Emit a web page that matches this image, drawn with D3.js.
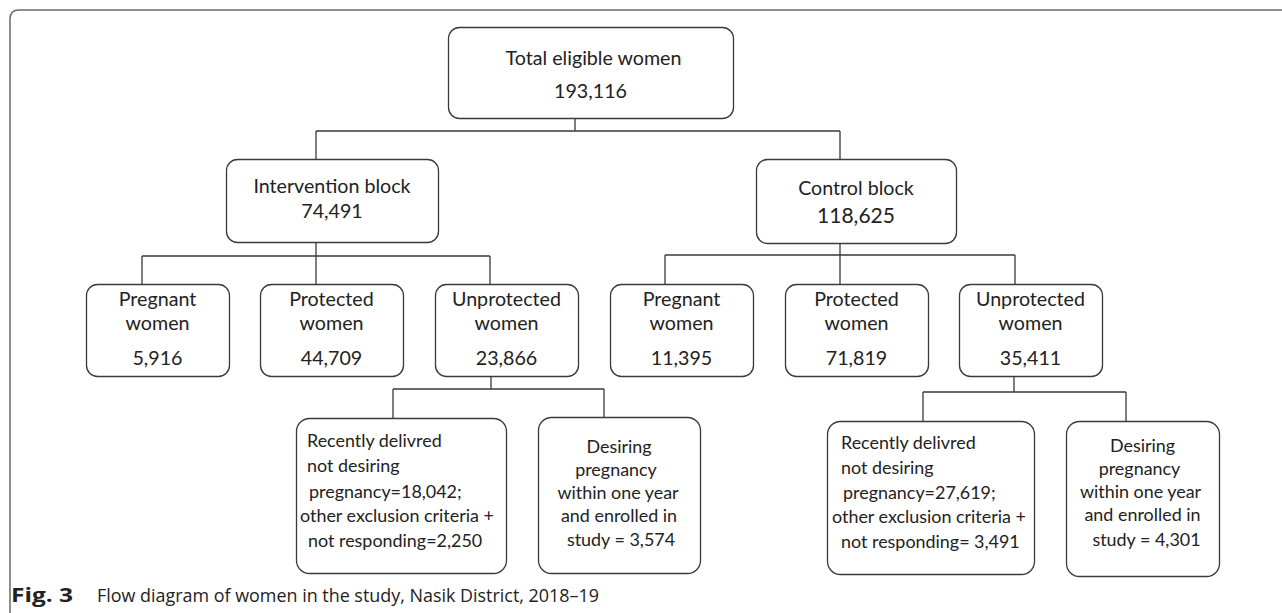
<!DOCTYPE html>
<html><head><meta charset="utf-8">
<script src="https://cdn.jsdelivr.net/npm/d3@7"></script>
<style>html,body{margin:0;padding:0;background:#fff;} svg{display:block;}</style>
</head><body>
<svg id="chart" width="1282" height="613"></svg>
<script>
// ---------------- data ----------------
const totalLabel = "Total eligible women";
const totalCount = "193,116";
const blockNames = ["Intervention block", "Control block"];
const blockCounts = ["74,491", "118,625"];
const groupNames = [["Pregnant", "women"], ["Protected", "women"], ["Unprotected", "women"]];
const interventionCounts = ["5,916", "44,709", "23,866"];
const controlCounts = ["11,395", "71,819", "35,411"];
const excludedIntervention = ["Recently delivred", "not desiring", "pregnancy=18,042;", "other exclusion criteria +", "not responding=2,250"];
const excludedControl = ["Recently delivred", "not desiring", "pregnancy=27,619;", "other exclusion criteria +", "not responding= 3,491"];
const enrolledIntervention = ["Desiring", "pregnancy", "within one year", "and enrolled in", "study = 3,574"];
const enrolledControl = ["Desiring", "pregnancy", "within one year", "and enrolled in", "study = 4,301"];
const captionLabel = "Fig. 3";
const captionText = "Flow diagram of women in the study, Nasik District, 2018\u201319";

// ---------------- layout (geometry only) ----------------
const svg = d3.select("#chart");
const INK = "#222";
const LINE = "#3a3a3a";
const FONT = "Lato, 'Open Sans', sans-serif";
const CAPFONT = "'Open Sans', 'Noto Sans', sans-serif";

function fit(family, weight, str, target) {
  const t = svg.append("text").attr("font-family", family).attr("font-weight", weight)
    .attr("font-size", 100).text(str);
  const w = t.node().getComputedTextLength();
  t.remove();
  return 100 * target / w;
}
const sizeMain = fit(FONT, 400, totalLabel, 176);
const sizeSmall = fit(FONT, 400, "other exclusion criteria +", 194);

// frame
svg.append("path")
  .attr("d", "M10,613 L10,19 Q10,10 19,10 L1282,10")
  .attr("fill", "none").attr("stroke", "#6a6a6a").attr("stroke-width", 1.5);

// node layout
const groupXs = [[86, 260, 435], [610, 785, 959]];
const groupCounts = [interventionCounts, controlCounts];
const nodes = [];
nodes.push({x: 448, y: 27, w: 285, h: 91, rx: 11, size: sizeMain, anchor: "middle",
  lines: [totalLabel, totalCount], base: [38, 71], dx: [3, 0], scale: [1, 1]});
const blockGeo = [{x: 226, y: 159, w: 212, h: 83, base: [34, 59], scale: [1, 1]},
                  {x: 756, y: 159, w: 200, h: 84, base: [36, 64], scale: [1, 1.07]}];
blockNames.forEach((n, i) => {
  const g = blockGeo[i];
  nodes.push({x: g.x, y: g.y, w: g.w, h: g.h, rx: 11, size: sizeMain, anchor: "middle",
    lines: [n, blockCounts[i]], base: g.base, dx: [0, 0], scale: g.scale});
});
groupCounts.forEach((counts, b) => {
  groupNames.forEach((gn, i) => {
    nodes.push({x: groupXs[b][i], y: 284, w: 143, h: 92, rx: 11, size: sizeMain, anchor: "middle",
      lines: [gn[0], gn[1], counts[i]], base: [22, 46, 81], dx: [0, 0, 0], scale: [1, 1, 1]});
  });
});
nodes.push({x: 296, y: 418, w: 210, h: 155, rx: 13, size: sizeSmall, anchor: "start",
  lines: excludedIntervention, base: [29, 54, 80, 104, 129], dx: [11, 11, 13, 4, 12], scale: [1,1,1,1,1]});
nodes.push({x: 538, y: 417, w: 162, h: 156, rx: 13, size: sizeSmall, anchor: "middle",
  lines: enrolledIntervention, base: [36, 59, 82, 105, 129], dx: [0, -3, -1, 0, 2], scale: [1,1,1,1,1]});
nodes.push({x: 827, y: 421, w: 207, h: 153, rx: 13, size: sizeSmall, anchor: "start",
  lines: excludedControl, base: [28, 53, 78, 102, 127], dx: [14, 14, 16, 5, 14], scale: [1,1,1,1,1]});
nodes.push({x: 1066, y: 421, w: 153, h: 155, rx: 13, size: sizeSmall, anchor: "middle",
  lines: enrolledControl, base: [31, 54, 77, 100, 125], dx: [0, -3, -2, 0, 4], scale: [1,1,1,1,1]});

// connectors: drop x, parent bottom y, bar y, child xs, child top y
const connectors = [
  {px: 575, py: 118, by: 131, cx: [316, 840], cy: 159},
  {px: 316, py: 242, by: 256, cx: [142, 316, 490], cy: 284},
  {px: 840, py: 243, by: 255, cx: [665, 840, 1015], cy: 284},
  {px: 491, py: 376, by: 389, cx: [393, 604], cy: 418},
  {px: 1014, py: 376, by: 392, cx: [923, 1126], cy: 421}
];
const linkGen = d => {
  let p = `M${d.px},${d.py}V${d.by}M${d3.min(d.cx)},${d.by}H${d3.max(d.cx)}`;
  d.cx.forEach(x => { p += `M${x},${d.by}V${d.cy}`; });
  return p;
};
svg.append("g").selectAll("path").data(connectors).join("path")
  .attr("d", linkGen).attr("fill", "none").attr("stroke", LINE).attr("stroke-width", 1.3);

// boxes
const ng = svg.append("g").selectAll("g").data(nodes).join("g")
  .attr("transform", d => `translate(${d.x},${d.y})`);
ng.append("rect")
  .attr("x", 0.5).attr("y", 0.5)
  .attr("width", d => d.w).attr("height", d => d.h)
  .attr("rx", d => d.rx).attr("ry", d => d.rx)
  .attr("fill", "#fff").attr("stroke", LINE).attr("stroke-width", 1.3);
ng.each(function(d) {
  d3.select(this).selectAll("text").data(d.lines.map((t, i) => ({t, i, d}))).join("text")
    .attr("x", e => (e.d.anchor === "middle" ? e.d.w / 2 : 0) + e.d.dx[e.i])
    .attr("y", e => e.d.base[e.i])
    .attr("text-anchor", e => e.d.anchor)
    .attr("font-family", FONT)
    .attr("font-size", e => e.d.size * e.d.scale[e.i])
    .attr("fill", INK)
    .text(e => e.t);
});

// caption
svg.append("text").attr("x", 11).attr("y", 602)
  .attr("font-family", CAPFONT).attr("fill", "#222")
  .attr("font-weight", 700).attr("font-size", 20)
  .attr("textLength", 62).attr("lengthAdjust", "spacingAndGlyphs")
  .text(captionLabel);
svg.append("text").attr("x", 97).attr("y", 602)
  .attr("font-family", CAPFONT).attr("fill", "#222")
  .attr("font-weight", 400).attr("font-size", 17.5)
  .attr("textLength", 502).attr("lengthAdjust", "spacingAndGlyphs")
  .text(captionText);
</script>
</body></html>
